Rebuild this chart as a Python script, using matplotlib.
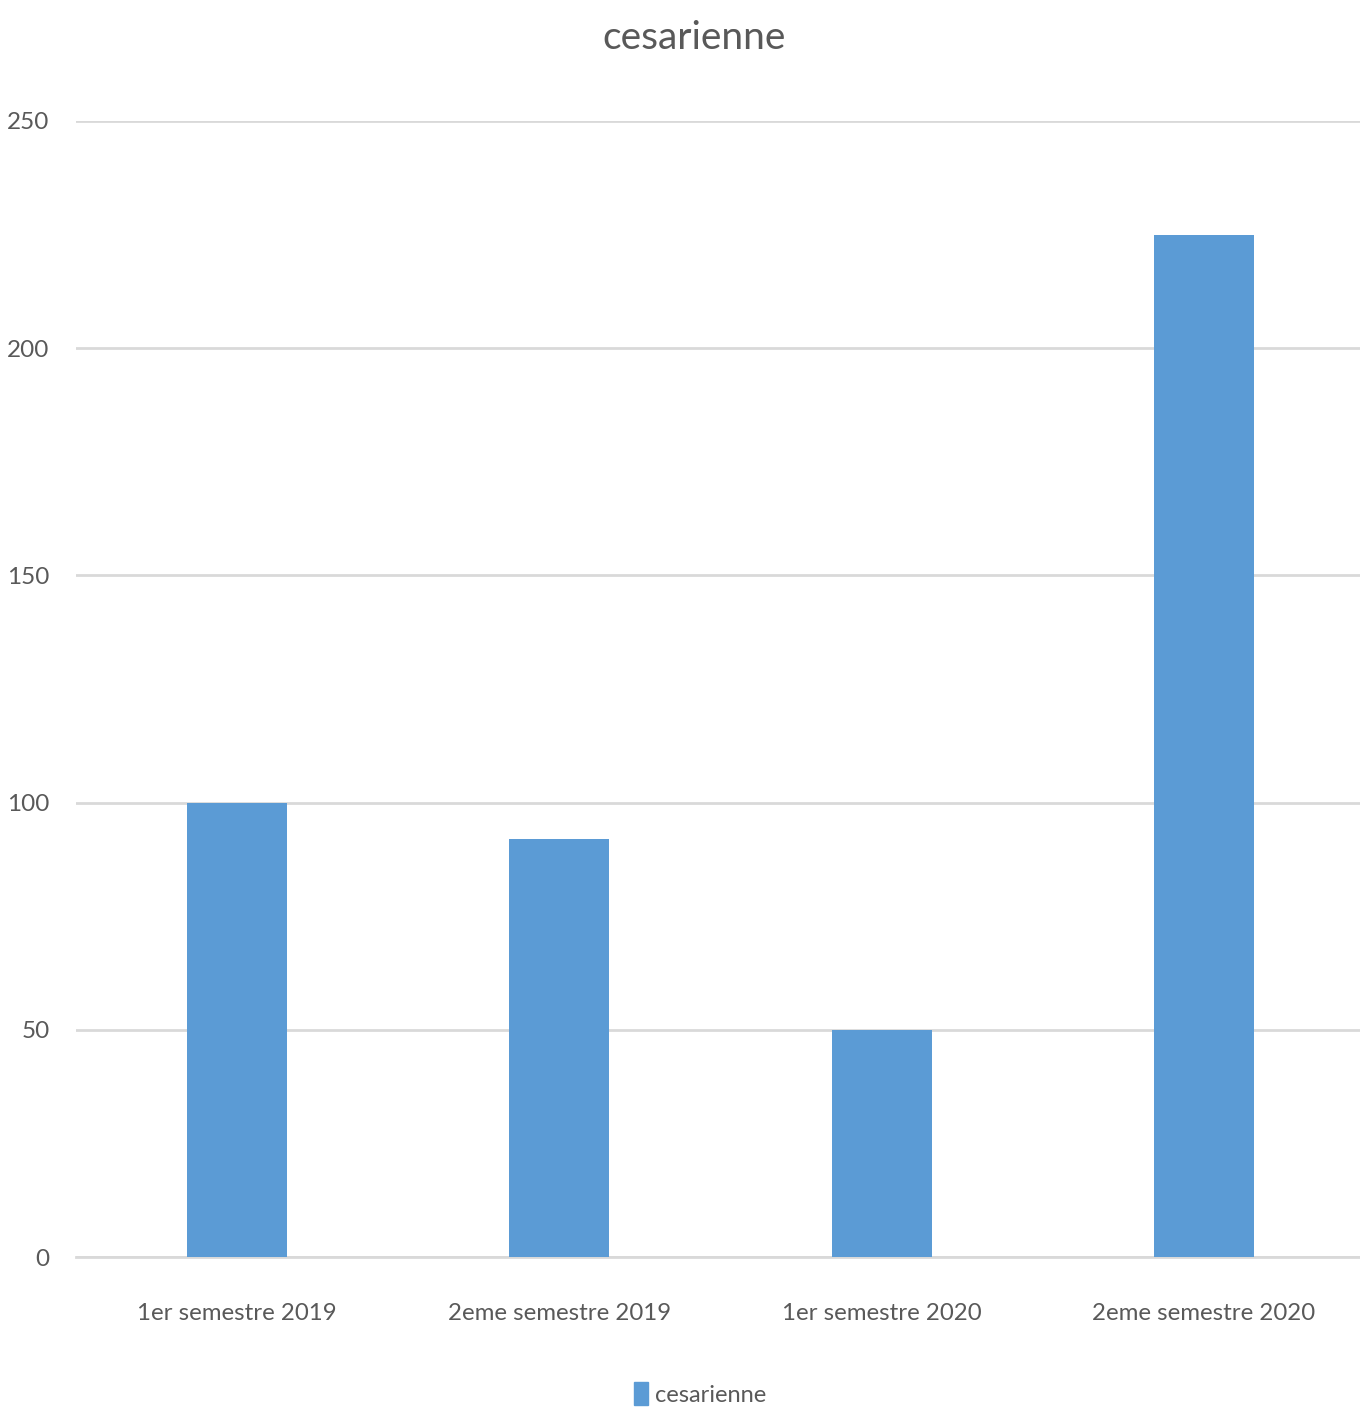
import matplotlib
matplotlib.use("Agg")
import matplotlib.pyplot as plt
from matplotlib.patches import Patch

plt.rcParams["font.family"] = ["Lato", "DejaVu Sans"]

categories = ["1er semestre 2019", "2eme semestre 2019", "1er semestre 2020", "2eme semestre 2020"]
values = [100, 92, 50, 225]
yticks = [0, 50, 100, 150, 200, 250]
series_name = "cesarienne"

BAR = "#5B9BD5"
GRID = "#D9D9D9"
TEXT = "#595959"

fig = plt.figure(figsize=(13.6, 14.11), dpi=100)
# plot area runs slightly past the right edge, as in the original export
ax = fig.add_axes([76 / 1360, 1 - 1257 / 1411, 1289 / 1360, (1257 - 121) / 1411])

x = range(len(categories))
ax.bar(x, values, width=0.31, color=BAR, zorder=3)
ax.set_xlim(-0.5, len(categories) - 0.5)
ax.set_ylim(0, 250)
ax.set_yticks(yticks)
ax.set_yticklabels([str(t) for t in yticks], fontsize=17.5, color=TEXT)
ax.set_xticks(list(x))
ax.set_xticklabels(categories, fontsize=17.3, color=TEXT)
ax.tick_params(axis="both", length=0)
ax.tick_params(axis="y", pad=19)
ax.tick_params(axis="x", pad=33)
ax.grid(axis="y", color=GRID, linewidth=2, zorder=0)
for s in ["top", "right", "left"]:
    ax.spines[s].set_visible(False)
ax.spines["bottom"].set_color(GRID)
ax.spines["bottom"].set_linewidth(2)

fig.text(0.51, 1 - 38 / 1411, "cesarienne", ha="center", va="center", fontsize=28, color=TEXT)

ax.legend([Patch(color=BAR)], [series_name], loc="center", bbox_to_anchor=(0.515, 1 - 1394 / 1411),
          bbox_transform=fig.transFigure, frameon=False, fontsize=17, handlelength=0.6,
          handleheight=1.1, handletextpad=0.3, labelcolor=TEXT)

fig.savefig("out.png", dpi=100)
